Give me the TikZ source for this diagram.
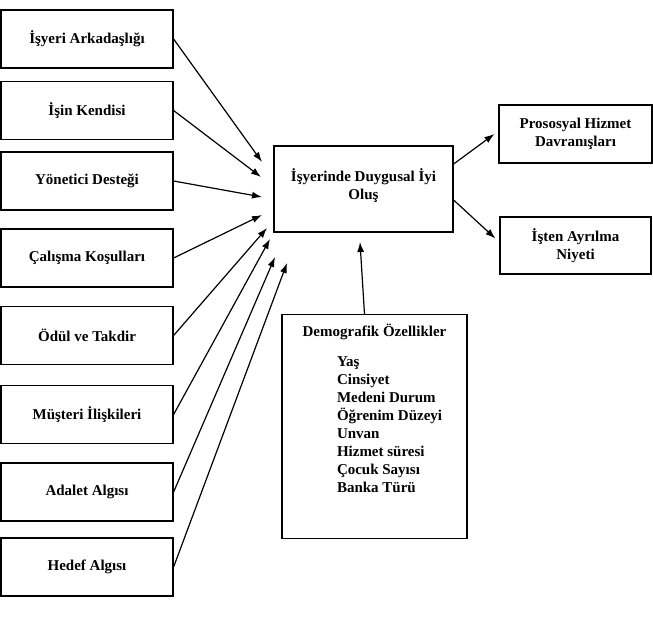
\documentclass[tikz,border=0pt]{standalone}
\usepackage{fontspec}
\setmainfont{Liberation Serif}
\usetikzlibrary{arrows.meta}

\begin{document}
\begin{tikzpicture}[x=1pt,y=-1pt,
    box/.style={draw,line width=1.2pt,align=center,inner sep=2pt,font=\fontsize{15}{18}\selectfont\bfseries},
    leftbox/.style={box,minimum width=172pt,minimum height=58pt},
    arr/.style={line width=1.2pt,-{Latex[length=10pt,width=7pt]}}]
  \useasboundingbox (0,0) rectangle (653,638);

  %% left boxes
  \node[leftbox] (arkadas) at (87,39) {İşyeri Arkadaşlığı}; % 1
  \node[leftbox] (isin) at (87,110.5) {İşin Kendisi}; % 2
  \node[leftbox] (yonetici) at (87,181) {Yönetici Desteği}; % 3
  \node[leftbox] (calisma) at (87,258) {Çalışma Koşulları}; % 4
  \node[leftbox] (odul) at (87,335.5) {Ödül ve Takdir}; % 5
  \node[leftbox] (musteri) at (87,414.5) {Müşteri İlişkileri}; % 6
  \node[leftbox] (adalet) at (87,492) {Adalet Algısı}; % 7
  \node[leftbox] (hedef) at (87,567) {Hedef Algısı}; % 8

  %% middle and right boxes
  \node[box,minimum width=179pt,minimum height=86pt] (iyi) at (363.5,189) {İşyerinde Duygusal İyi\\Oluş\rule[-10pt]{0pt}{0pt}};
  \node[box,minimum width=153pt,minimum height=58pt] (pros) at (575.5,134) {Prososyal Hizmet\\Davranışları};
  \node[box,minimum width=151pt,minimum height=57pt] (ayrilma) at (575.5,245.5) {İşten Ayrılma\\Niyeti};

  %% demographics
  \node[box,inner sep=0pt,anchor=north] (demo) at (374.5,314) {\parbox[t][224pt][t]{185pt}{%
      \vspace*{9pt}\centering Demografik Özellikler\par
      \vspace{12pt}\raggedright\leftskip=55pt
      Yaş\\Cinsiyet\\Medeni Durum\\Öğrenim Düzeyi\\Unvan\\Hizmet süresi\\Çocuk Sayısı\\Banka Türü\par}};

  %% arrow tips
  \coordinate (t1) at (262,162);
  \coordinate (t2) at (261,177);
  \coordinate (t3) at (262,197);
  \coordinate (t4) at (262,215);
  \coordinate (t5) at (267,228);
  \coordinate (t6) at (270,239);
  \coordinate (t7) at (275,257);
  \coordinate (t8) at (287,263);
  \coordinate (tdemo) at (360,242);

  %% arrows
  \draw[arr] (arkadas.east) -- (t1);
  \draw[arr] (isin.east) -- (t2);
  \draw[arr] (yonetici.east) -- (t3);
  \draw[arr] (calisma.east) -- (t4);
  \draw[arr] (odul.east) -- (t5);
  \draw[arr] (musteri.east) -- (t6);
  \draw[arr] (adalet.east) -- (t7);
  \draw[arr] (hedef.east) -- (t8);

  % outcomes
  \draw[arr] ([yshift=25pt]iyi.east) -- ([xshift=-4pt]pros.west);
  \draw[arr] ([yshift=-11pt]iyi.east) -- ([shift={(-4pt,7pt)}]ayrilma.west);

  % demographics -> iyi olus
  \draw[arr] ([xshift=-10pt]demo.north) -- (tdemo);
\end{tikzpicture}
\end{document}
